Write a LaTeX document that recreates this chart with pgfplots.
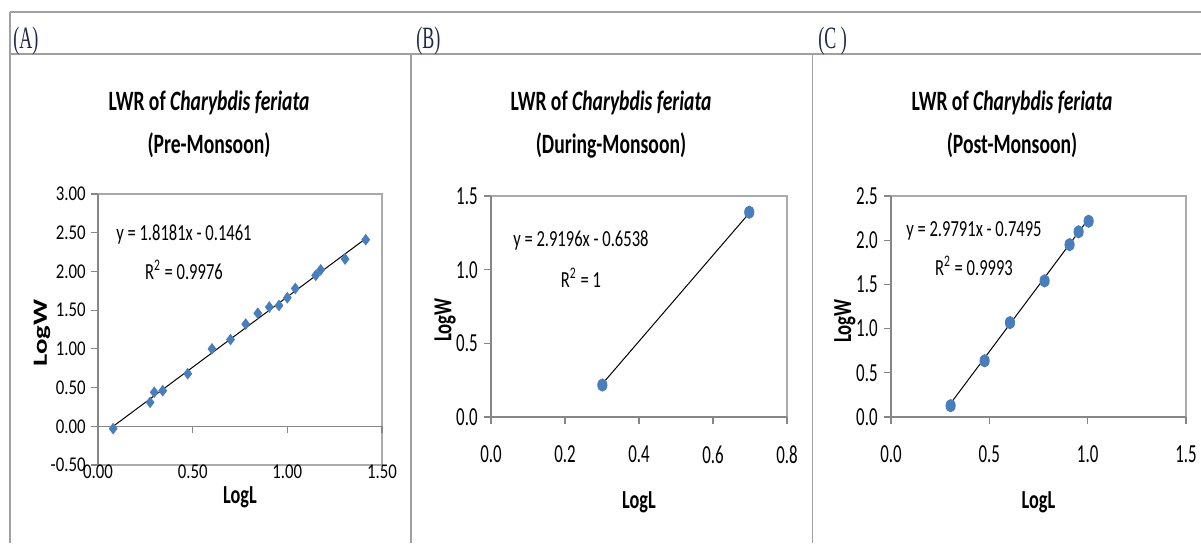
\documentclass[border=0pt]{standalone}
\usepackage{pgfplots}
\pgfplotsset{compat=1.18}
\usepackage{graphicx}
\usepackage{fontspec}
\setmainfont{Carlito}
\newfontfamily\titlef{Carlito}[FakeStretch=0.70]
\newfontfamily\eqf{Carlito}[FakeStretch=0.72]
\newfontfamily\tickAf{Carlito}[FakeStretch=0.80]
\newfontfamily\tickBf{Carlito}[FakeStretch=0.65]
\newfontfamily\headf{Liberation Serif}[FakeStretch=0.58]
\definecolor{markblue}{RGB}{74,126,187}
\definecolor{axisgray}{RGB}{134,134,134}
\definecolor{bordergray}{RGB}{170,170,170}
\definecolor{framegray}{RGB}{160,160,160}
\definecolor{headblue}{RGB}{30,40,70}
\pgfplotsset{
  lwr/.style={
    scale only axis,
    anchor=south west,
    axis x line*=middle,
    axis y line*=left,
    hide obscured x ticks=false,
    hide obscured y ticks=false,
    axis line style={axisgray, line width=0.6pt},
    axis background/.style={draw=bordergray, line width=0.6pt},
    tick align=outside,
    major tick length=3.5pt,
    tick style={axisgray, line width=0.6pt},
    minor tick num=0,
    xticklabel style={anchor=center, inner sep=0pt, yshift=-18.25pt},
    yticklabel style={anchor=east, inner sep=0pt, xshift=-2.5pt},
    clip=false,
    xlabel={\titlef\fontsize{13}{15}\selectfont\bfseries LogL},
  }
}
\begin{document}
\begin{tikzpicture}
\useasboundingbox (0pt,0pt) rectangle (600.5pt,-271.5pt);
% table frame
\draw[framegray, line width=0.75pt] (5pt,-6pt) -- (600.5pt,-6pt);
\draw[framegray, line width=0.75pt] (5pt,-27pt) -- (600.5pt,-27pt);
\draw[framegray, line width=0.75pt] (5pt,-6pt) -- (5pt,-271.5pt);
\draw[framegray, line width=0.75pt] (205.5pt,-27pt) -- (205.5pt,-271.5pt);
\draw[framegray, line width=0.75pt] (406.25pt,-27pt) -- (406.25pt,-271.5pt);
% header labels
\node[anchor=base west, inner sep=0pt, text=headblue, font=\headf\fontsize{15.5}{18}\selectfont] at (6.5pt,-24.25pt) {(A)};
\node[anchor=base west, inner sep=0pt, text=headblue, font=\headf\fontsize{15.5}{18}\selectfont] at (208pt,-24.25pt) {(B)};
\node[anchor=base west, inner sep=0pt, text=headblue, font=\headf\fontsize{15.5}{18}\selectfont] at (409pt,-24.25pt) {(C )};
% titles
\node[anchor=base, inner sep=0pt, font=\titlef\fontsize{14}{17}\selectfont\bfseries] at (104.5pt,-55pt) {LWR of \textit{Charybdis feriata}};
\node[anchor=base, inner sep=0pt, font=\titlef\fontsize{14}{17}\selectfont\bfseries] at (104.5pt,-76.5pt) {(Pre-Monsoon)};
\node[anchor=base, inner sep=0pt, font=\titlef\fontsize{14}{17}\selectfont\bfseries] at (305.5pt,-55pt) {LWR of \textit{Charybdis feriata}};
\node[anchor=base, inner sep=0pt, font=\titlef\fontsize{14}{17}\selectfont\bfseries] at (305.5pt,-76.5pt) {(During-Monsoon)};
\node[anchor=base, inner sep=0pt, font=\titlef\fontsize{14}{17}\selectfont\bfseries] at (506pt,-55pt) {LWR of \textit{Charybdis feriata}};
\node[anchor=base, inner sep=0pt, font=\titlef\fontsize{14}{17}\selectfont\bfseries] at (506pt,-76.5pt) {(Post-Monsoon)};

% ---------- Panel A ----------
\begin{axis}[lwr,
  at={(49pt,-232.5pt)}, width=142pt, height=135.5pt,
  xmin=0, xmax=1.5, ymin=-0.5, ymax=3,
  xtick={0,0.5,1,1.5}, xticklabels={0.00,0.50,1.00,1.50},
  ytick={-0.5,0,0.5,1,1.5,2,2.5,3},
  yticklabels={-0.50,0.00,0.50,1.00,1.50,2.00,2.50,3.00},
  ticklabel style={font=\tickAf\fontsize{10.5}{12}\selectfont},
  xticklabel style={yshift=-0.75pt},
  xlabel style={at={(axis description cs:0.5,-0.118)}, anchor=center},
  ylabel={\scalebox{1}[0.7]{\fontsize{14.4}{16}\selectfont\bfseries LogW}},
  ylabel style={at={(axis description cs:-0.197,0.487)}, anchor=center},
]
\addplot[only marks, mark=diamond*, mark size=2.6pt, mark options={fill=markblue, draw=markblue}] coordinates {
(0.08,-0.03) (0.275,0.31) (0.297,0.44) (0.342,0.46) (0.474,0.68) (0.602,1.00)
(0.70,1.12) (0.78,1.32) (0.844,1.46) (0.905,1.54) (0.956,1.56) (1.00,1.66)
(1.042,1.78) (1.15,1.95) (1.176,2.02) (1.305,2.16) (1.414,2.41)};
\addplot[black, line width=0.5pt, mark=none] coordinates {(0.08,-0.0006) (1.414,2.4247)};
\node[font=\eqf\fontsize{11.5}{13}\selectfont] at (axis cs:0.454,2.48) {y = 1.8181x - 0.1461};
\node[font=\eqf\fontsize{11.5}{13}\selectfont] at (axis cs:0.454,2.02) {R\textsuperscript{2} = 0.9976};
\end{axis}

% ---------- Panel B ----------
\begin{axis}[lwr,
  at={(245.5pt,-208.5pt)}, width=148pt, height=110.5pt,
  xmin=0, xmax=0.8, ymin=0, ymax=1.5,
  xtick={0,0.2,0.4,0.6,0.8}, xticklabels={0.0,0.2,0.4,0.6,0.8},
  ytick={0,0.5,1,1.5}, yticklabels={0.0,0.5,1.0,1.5},
  ticklabel style={font=\tickBf\fontsize{13}{15}\selectfont},
  yticklabel style={xshift=-0.5pt},
  xticklabel style={yshift=3pt},
  xlabel style={at={(axis description cs:0.5,-0.385)}, anchor=center},
  ylabel={\scalebox{0.72}[1]{\fontsize{13}{15}\selectfont\bfseries LogW}},
  ylabel style={at={(axis description cs:-0.155,0.439)}, anchor=center},
]
\addplot[only marks, mark=*, mark size=3.1pt, mark options={xscale=0.75, fill=markblue, draw=markblue}] coordinates {
(0.301,0.217) (0.698,1.39)};
\addplot[black, line width=0.5pt, mark=none] coordinates {(0.301,0.2250) (0.699,1.3870)};
\node[font=\eqf\fontsize{11.5}{13}\selectfont] at (axis cs:0.243,1.195) {y = 2.9196x - 0.6538};
\node[font=\eqf\fontsize{11.5}{13}\selectfont] at (axis cs:0.243,0.944) {R\textsuperscript{2} = 1};
\end{axis}

% ---------- Panel C ----------
\begin{axis}[lwr,
  at={(445.5pt,-208.5pt)}, width=147.5pt, height=110.5pt,
  xmin=0, xmax=1.5, ymin=0, ymax=2.5,
  xtick={0,0.5,1,1.5}, xticklabels={0.0,0.5,1.0,1.5},
  ytick={0,0.5,1,1.5,2,2.5}, yticklabels={0.0,0.5,1.0,1.5,2.0,2.5},
  ticklabel style={font=\tickBf\fontsize{13}{15}\selectfont},
  yticklabel style={xshift=-0.5pt},
  xticklabel style={yshift=3pt},
  xlabel style={at={(axis description cs:0.5,-0.385)}, anchor=center},
  ylabel={\scalebox{0.72}[1]{\fontsize{13}{15}\selectfont\bfseries LogW}},
  ylabel style={at={(axis description cs:-0.156,0.434)}, anchor=center},
]
\addplot[only marks, mark=*, mark size=3.1pt, mark options={xscale=0.75, fill=markblue, draw=markblue}] coordinates {
(0.303,0.128) (0.476,0.636) (0.605,1.068) (0.781,1.54) (0.908,1.95) (0.954,2.095) (1.005,2.215)};
\addplot[black, line width=0.5pt, mark=none] coordinates {(0.301,0.1472) (1.005,2.2445)};
\node[font=\eqf\fontsize{11.5}{13}\selectfont] at (axis cs:0.422,2.10) {y = 2.9791x - 0.7495};
\node[font=\eqf\fontsize{11.5}{13}\selectfont] at (axis cs:0.422,1.71) {R\textsuperscript{2} = 0.9993};
\end{axis}
\end{tikzpicture}
\end{document}
